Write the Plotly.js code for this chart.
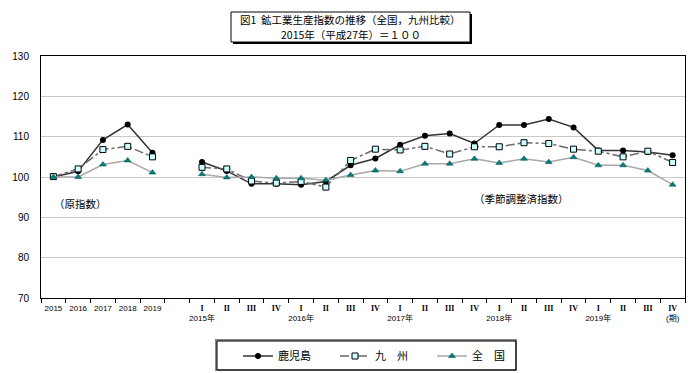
<!DOCTYPE html>
<html><head><meta charset="utf-8">
<script src="https://cdn.plot.ly/plotly-3.0.1.min.js"></script>
<style>html,body{margin:0;padding:0;background:#fff}#chart{width:700px;height:373px}</style>
</head><body><div id="chart"></div>
<script>
// ---- data ----
const annualLabels = ["2015","2016","2017","2018","2019"];
const quarterNames = ["I","II","III","IV","I","II","III","IV","I","II","III","IV","I","II","III","IV","I","II","III","IV"];
const quarterSubLabels = ["2015年","","","","2016年","","","","2017年","","","","2018年","","","","2019年","","","(期)"];
const kagoshimaAnnual = [100.0, 101.4, 109.2, 113.0, 106.0];
const kyushuAnnual    = [100.1, 102.0, 106.8, 107.6, 105.0];
const zenkokuAnnual   = [100.0, 100.0, 103.1, 104.1, 101.1];
const kagoshimaQ = [103.7,101.5,98.3,98.3,98.1,98.9,102.9,104.6,108.0,110.2,110.8,108.3,112.9,112.9,114.4,112.3,106.6,106.6,106.2,105.4];
const kyushuQ    = [102.4,102.0,99.0,98.5,98.9,97.5,104.1,106.9,106.7,107.6,105.7,107.5,107.5,108.5,108.3,106.9,106.4,105.0,106.4,103.6];
const zenkokuQ   = [100.7,99.9,100.0,99.7,99.7,99.2,100.5,101.6,101.4,103.3,103.3,104.5,103.5,104.5,103.7,104.9,102.9,102.9,101.6,98.1];
const seriesNames = ["鹿児島","九　州","全　国"];
const titleLines = ["図1  鉱工業生産指数の推移（全国，九州比較）", "2015年（平成27年）＝１００"];
const yTicks = [70,80,90,100,110,120,130];

// ---- build ----
const qText = quarterNames.map((q, i) =>
  "<span style=\"font-family:'Liberation Serif',serif;font-weight:bold\">" + q + "</span>" +
  (quarterSubLabels[i] ? "<br>" + quarterSubLabels[i] : ""));
const tickText = annualLabels.concat([""], qText);
const xs = tickText.map((_, i) => i);
const join = (a, q) => a.concat([null], q);

const W = 700, H = 373, L = 41, R = 685, T = 56, B = 298;
const px = x => (x - L) / (R - L);
const py = y => (B - y) / (B - T);

const traces = [
  {name: seriesNames[0], x: xs, y: join(kagoshimaAnnual, kagoshimaQ), mode: "lines+markers", connectgaps: false,
   line: {color: "#333333", width: 1.5}, marker: {symbol: "circle", size: 6, color: "#000000"}},
  {name: seriesNames[1], x: xs, y: join(kyushuAnnual, kyushuQ), mode: "lines+markers", connectgaps: false,
   line: {color: "#6a6a6a", width: 1.5, dash: "dashdot"}, marker: {symbol: "square", size: 6, color: "#ccffff", line: {color: "#000", width: 1}}},
  {name: seriesNames[2], x: xs, y: join(zenkokuAnnual, zenkokuQ), mode: "lines+markers", connectgaps: false,
   line: {color: "#a8a8a8", width: 1.5}, marker: {symbol: "triangle-up", size: 6, color: "#008080", line: {color: "#004040", width: 0.5}}}
];

const font = "'Noto Sans CJK JP', 'Liberation Sans', sans-serif";
const layout = {
  width: W, height: H,
  margin: {l: L, r: W - R, t: T, b: H - B},
  paper_bgcolor: "#fff", plot_bgcolor: "#fff",
  font: {family: font, color: "#000"},
  showlegend: true,
  legend: {orientation: "h", xref: "container", yref: "container", x: 238 / W, xanchor: "left",
           y: 1 - 356 / H, yanchor: "middle", bgcolor: "rgba(0,0,0,0)", borderwidth: 0,
           entrywidth: 52, entrywidthmode: "pixels", font: {size: 11, family: font}, itemclick: false},
  xaxis: {type: "linear", range: [-0.5, tickText.length - 0.5], tickmode: "array", tickvals: xs, ticktext: tickText,
          ticks: "", showgrid: false, zeroline: false, showline: true, linecolor: "#000", linewidth: 1, mirror: true,
          tickfont: {size: 8, family: "'Liberation Sans', 'Noto Sans CJK JP', sans-serif"}, ticklabelstandoff: 2, tickangle: 0,
          minor: {tick0: 0.5, dtick: 1, ticks: "outside", ticklen: 4, tickcolor: "#000", showgrid: false}},
  yaxis: {range: [70, 130], tickmode: "array", tickvals: yTicks, ticks: "", showgrid: true, gridcolor: "#c8c8c8", gridwidth: 1,
          zeroline: false, showline: true, linecolor: "#000", linewidth: 1, mirror: true,
          tickfont: {size: 10, family: "'Liberation Sans', Arial, sans-serif"}, ticklabelstandoff: 9},
  shapes: [
    // title box with shadow
    {type: "rect", xref: "paper", yref: "paper", x0: px(233), x1: px(472), y0: py(14), y1: py(44), fillcolor: "#000", line: {width: 0}, layer: "above"},
    {type: "rect", xref: "paper", yref: "paper", x0: px(231), x1: px(470), y0: py(12), y1: py(42), fillcolor: "#fff", line: {color: "#000", width: 1}, layer: "above"},
    // legend box
    {type: "rect", xref: "paper", yref: "paper", x0: px(216), x1: px(516), y0: py(340), y1: py(370), fillcolor: "#fff", line: {color: "#888", width: 2}, layer: "above"},
    {type: "rect", xref: "paper", yref: "paper", x0: px(217), x1: px(516), y0: py(341), y1: py(370), fillcolor: "rgba(0,0,0,0)", line: {color: "#000", width: 1}, layer: "above"}
  ],
  annotations: [
    {xref: "paper", yref: "paper", x: px(350.5), y: py(19.5), xanchor: "center", yanchor: "middle",
     text: titleLines[0], showarrow: false, font: {size: 10.5, family: font}},
    {xref: "paper", yref: "paper", x: px(350.5), y: py(35), xanchor: "center", yanchor: "middle",
     text: titleLines[1], showarrow: false, font: {size: 10.5, family: font}},
    {xref: "paper", yref: "paper", x: px(52), y: py(203), xanchor: "left", yanchor: "middle", text: "（原指数）", showarrow: false, font: {size: 10.5, family: font}},
    {xref: "paper", yref: "paper", x: px(472), y: py(199), xanchor: "left", yanchor: "middle", text: "（季節調整済指数）", showarrow: false, font: {size: 10.5, family: font}}
  ]
};

Plotly.newPlot("chart", traces, layout, {displayModeBar: false, staticPlot: true});
</script></body></html>
